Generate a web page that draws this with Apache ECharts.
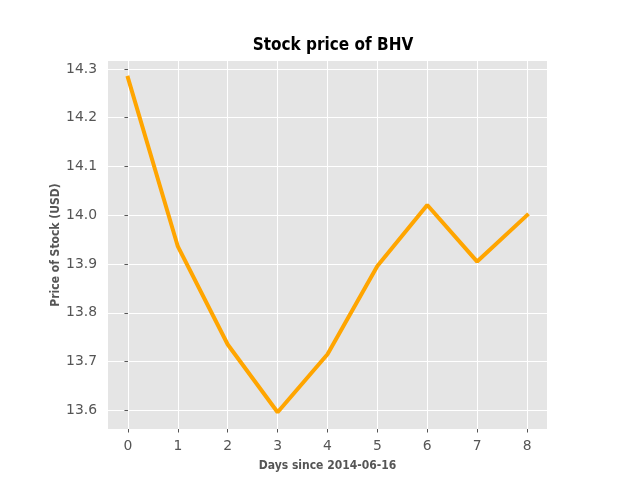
<!DOCTYPE html>
<html>
<head>
<meta charset="utf-8">
<script src="https://cdn.jsdelivr.net/npm/echarts@6/dist/echarts.min.js"></script>
<style>
html, body { margin: 0; padding: 0; background: #fff; }
#main { width: 640px; height: 480px; }
</style>
</head>
<body>
<div id="main"></div>
<script>
var days = [0, 1, 2, 3, 4, 5, 6, 7, 8];
var prices = [14.282, 13.936, 13.735, 13.596, 13.715, 13.896, 14.021, 13.905, 14.0];
var yTicks = [13.6, 13.7, 13.8, 13.9, 14.0, 14.1, 14.2, 14.3];

var condensed = '"Liberation Sans Narrow", "DejaVu Sans Condensed", sans-serif';

// matplotlib style 5% margins
var xMin = days[0] - 0.05 * (days[days.length - 1] - days[0]);
var xMax = days[days.length - 1] + 0.05 * (days[days.length - 1] - days[0]);
var pMin = Math.min.apply(null, prices), pMax = Math.max.apply(null, prices);
var yMin = pMin - 0.05 * (pMax - pMin);
var yMax = pMax + 0.05 * (pMax - pMin);

var seriesData = [];
for (var i = 0; i < days.length; i++) {
	seriesData.push([days[i], prices[i]]);
}

var chart = echarts.init(document.getElementById('main'));
var option = {
	animation: false,
	backgroundColor: '#ffffff',
	title: {
		text: 'Stock price of BHV',
		left: 328,
		top: 32,
		textAlign: 'center',
		textStyle: {
			fontFamily: condensed,
			fontWeight: 'bold',
			fontSize: 17,
			color: '#000'
		}
	},
	grid: {
		left: 108,
		right: 93,
		top: 61,
		bottom: 51,
		show: true,
		backgroundColor: '#E5E5E5',
		borderWidth: 0
	},
	xAxis: {
		type: 'value',
		min: xMin,
		max: xMax,
		name: 'Days since 2014-06-16',
		nameLocation: 'middle',
		nameGap: 31,
		nameMoveOverlap: false,
		nameTextStyle: {
			fontFamily: condensed,
			fontWeight: 'bold',
			fontSize: 12,
			color: '#555'
		},
		axisLine: { show: false },
		axisTick: {
			show: true,
			customValues: days,
			length: 3.5,
			lineStyle: { color: '#555', width: 1 }
		},
		axisLabel: {
			customValues: days,
			margin: 10,
			fontFamily: '"DejaVu Sans", sans-serif',
			fontSize: 13.9,
			color: '#555'
		},
		splitLine: {
			show: true,
			lineStyle: { color: '#ffffff', width: 1 }
		}
	},
	yAxis: {
		type: 'value',
		min: yMin,
		max: yMax,
		name: 'Price of Stock (USD)',
		nameLocation: 'middle',
		nameGap: 46,
		nameMoveOverlap: false,
		nameTextStyle: {
			fontFamily: condensed,
			fontWeight: 'bold',
			fontSize: 12,
			color: '#555'
		},
		axisLine: { show: false },
		axisTick: {
			show: true,
			customValues: yTicks,
			length: 3.5,
			lineStyle: { color: '#555', width: 1 }
		},
		axisLabel: {
			customValues: yTicks,
			margin: 11,
			fontFamily: '"DejaVu Sans", sans-serif',
			fontSize: 13.9,
			color: '#555',
			formatter: function (v) { return v.toFixed(1); }
		},
		splitLine: {
			show: true,
			lineStyle: { color: '#ffffff', width: 1 }
		}
	},
	series: [{
		type: 'line',
		data: seriesData,
		showSymbol: false,
		lineStyle: { color: '#FFA500', width: 4, cap: 'square' },
		itemStyle: { color: '#FFA500' }
	}]
};
chart.setOption(option);
</script>
</body>
</html>
